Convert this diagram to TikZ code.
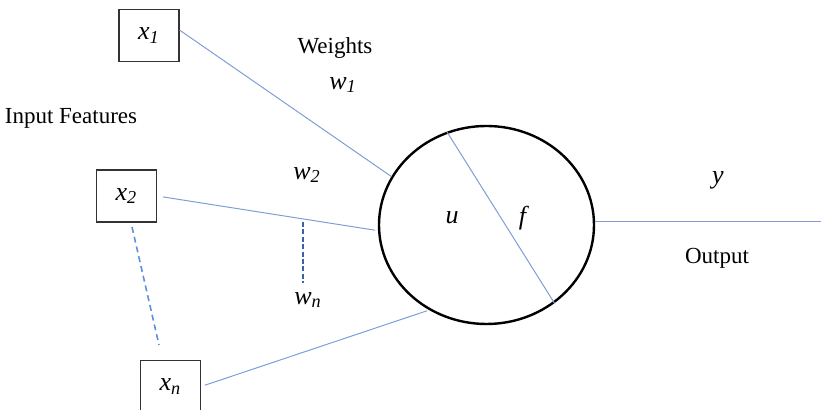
\documentclass[tikz,border=0pt]{standalone}
\usepackage{fontspec}
\setmainfont{Liberation Serif}
\usetikzlibrary{shapes.geometric}

\definecolor{linkblue}{RGB}{128,158,212}
\definecolor{dashblue}{RGB}{92,146,220}
\definecolor{deepblue}{RGB}{58,96,176}
\newcommand\varsub[2]{{\fontsize{13}{15}\selectfont\textit{#1}\textsubscript{\textit{#2}}}}

\begin{document}
\begin{tikzpicture}[x=0.5pt, y=-0.5pt,
  font=\fontsize{11.5}{13}\selectfont,
  inbox/.style={draw=black!80, line width=0.6pt, minimum width=30pt,
                minimum height=26pt, inner sep=0pt},
  neuron/.style={draw=black, ellipse, line width=1.2pt, minimum width=107.5pt,
                 minimum height=99pt, inner sep=0pt},
  link/.style={draw=linkblue, line width=0.5pt},
  fdash/.style={draw=dashblue, line width=0.8pt, dash pattern=on 3pt off 2pt},
  wdash/.style={draw=deepblue, line width=0.9pt, dash pattern=on 2.5pt off 1.2pt}
]
\useasboundingbox (0,0) rectangle (821,410);
\node[inbox] (x1) at (149,35.5) {\varsub{x}{1}};
\node[inbox] (x2) at (126.5,196) {\varsub{x}{2}};
\node[inbox] (xn) at (170.5,386.5) {\varsub{x}{n}};
\node[neuron] (n) at (486.5,225) {};

\node (feat) at (71,118) {Input Features};
\node (wts) at (335,48) {Weights};
\node (w1) at (343,85) {\varsub{w}{1}};
\node (w2) at (307,175) {\varsub{w}{2}};
\node (wn) at (308,300) {\varsub{w}{n}};
\node (u) at (452,218) {\fontsize{13}{15}\selectfont\textit{u}};
\node (f) at (524,218) {\fontsize{13}{15}\selectfont\textit{f}};
\node (y) at (718,180) {\fontsize{13}{15}\selectfont\textit{y}};
\node (outp) at (717,258) {Output};

\coordinate (yend) at (821,221);
\coordinate (da) at (132,227);
\coordinate (db) at (159,345);
\coordinate (wa) at (303,222);
\coordinate (wb) at (303,283);

\draw[link] (x1.10) -- (n.153);
\draw[link, shorten <=3pt, shorten >=1.5pt] (x2.east) -- (n.183);
\draw[link, shorten <=2pt, shorten >=1pt] (xn.east) -- (n.236);
\draw[link] (n.113) -- (n.311);
\draw[link] (n.2) -- (n.2 -| yend);
\draw[fdash] (da) -- (db);
\draw[wdash] (wa) -- (wb);
\end{tikzpicture}
\end{document}
